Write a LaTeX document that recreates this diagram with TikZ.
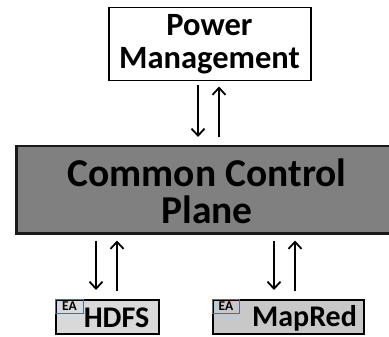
\documentclass[tikz,border=0pt]{standalone}
\usepackage{fontspec}
\setmainfont{Carlito}
\usetikzlibrary{arrows.meta}
\definecolor{planegray}{HTML}{808080}
\definecolor{hdfsgray}{HTML}{D9D9D9}
\definecolor{mrgray}{HTML}{C8C8C8}
\definecolor{eablue}{HTML}{41719C}
\tikzset{
  box/.style={draw=black, anchor=north west, inner sep=0pt, line width=1.5pt},
  label/.style={inner sep=0pt, align=center},
  tag/.style={draw=eablue, line width=1pt, anchor=north west, inner sep=0pt,
              font=\bfseries\fontsize{13.5}{13.5}\selectfont},
  flow/.style={line width=1.8pt, -{Straight Barb[length=7pt,width=13pt,line width=1.8pt]}},
}
\begin{document}
\begin{tikzpicture}[x=1pt, y=-1pt]
\useasboundingbox (0,0) rectangle (389,337);
\begin{scope}
\clip (0,0) rectangle (389,337);
% boxes
\node[box, fill=white, minimum width=202pt, minimum height=73pt] (pm) at (108,7) {};
\node[box, fill=planegray, line width=2.5pt, draw=black!90, minimum width=384pt, minimum height=87pt] (ccp) at (15,145) {};
\node[box, fill=hdfsgray, minimum width=103pt, minimum height=34pt] (hdfs) at (55,299) {};
\node[box, fill=mrgray, minimum width=151pt, minimum height=34pt] (mr) at (212,299) {};
\end{scope}
% texts
\node[label, font=\bfseries\fontsize{32.5}{33}\selectfont] (pmt) at (209.5,44) {Power\\Management};
\node[label, font=\bfseries\fontsize{39.5}{37}\selectfont] (ccpt) at (207,191) {Common Control\\Plane};
\node[label, font=\bfseries\fontsize{30}{30}\selectfont] (hdfst) at (116.5,318) {HDFS};
\node[label, font=\bfseries\fontsize{30}{30}\selectfont] (mrt) at (304.5,318) {MapRed};
% EA tags
\node[tag, minimum width=28pt, minimum height=14pt] (ea1) at (55,299) {EA};
\node[tag, minimum width=27pt, minimum height=14pt] (ea2) at (212,299) {EA};
% arrow columns
\coordinate (c1) at (198,0);
\coordinate (c2) at (219,0);
\coordinate (c3) at (96,0);
\coordinate (c4) at (117,0);
\coordinate (c5) at (274,0);
\coordinate (c6) at (295,0);
% arrows
\draw[flow, shorten <=4pt, shorten >=8pt] (pm.south -| c1) -- (ccp.north -| c1);
\draw[flow, shorten <=8pt, shorten >=5pt] (ccp.north -| c2) -- (pm.south -| c2);
\draw[flow, shorten <=6pt, shorten >=9pt] (ccp.south -| c3) -- (hdfs.north -| c3);
\draw[flow, shorten <=8pt, shorten >=6pt] (hdfs.north -| c4) -- (ccp.south -| c4);
\draw[flow, shorten <=6pt, shorten >=9pt] (ccp.south -| c5) -- (mr.north -| c5);
\draw[flow, shorten <=8pt, shorten >=6pt] (mr.north -| c6) -- (ccp.south -| c6);
\end{tikzpicture}
\end{document}
